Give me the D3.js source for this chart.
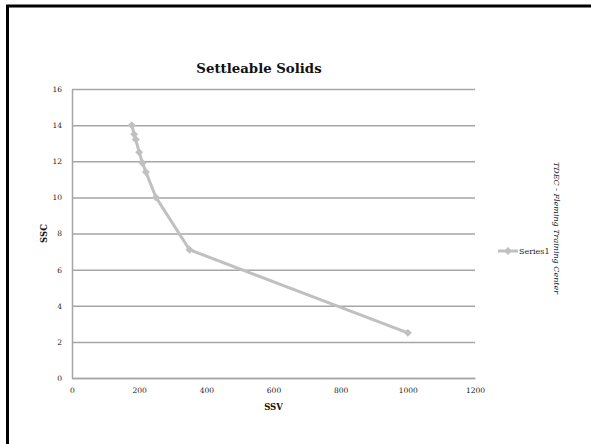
<!DOCTYPE html>
<html lang="en">
<head>
<meta charset="UTF-8">
<title>Settleable Solids</title>
<script src="https://cdn.jsdelivr.net/npm/d3@7"></script>
<style>
  body { margin: 0; background: #fff; }
  text { font-family: "DejaVu Serif", "Liberation Serif", serif; }
</style>
</head>
<body>
<div id="container"></div>
<script>
    const width = 591;
    const height = 444;
    const margin = { top: 89, left: 72, right: 116, bottom: 66 };

    // SSV (x) and SSC (y) values
    const ssv = [178, 185, 190, 200, 210, 220, 250, 350, 1000];
    const ssc = [14, 13.5, 13.2, 12.5, 11.9, 11.4, 10, 7.1, 2.5];
    const xTicks = [0, 200, 400, 600, 800, 1000, 1200];
    const yTicks = [0, 2, 4, 6, 8, 10, 12, 14, 16];
    const seriesName = 'Series1';

    const data = ssv.map((v, i) => ({ x: v, y: ssc[i] }));

    const x = d3.scaleLinear().domain([0, 1200]).range([margin.left, width - margin.right]);
    const y = d3.scaleLinear().domain([0, 16]).range([height - margin.bottom, margin.top]);

    const svg = d3.select('#container').append('svg')
        .attr('width', width)
        .attr('height', height);

    // outer frame
    svg.append('rect')
        .attr('x', 7.5).attr('y', 6)
        .attr('width', 620).attr('height', 480)
        .attr('fill', 'none')
        .attr('stroke', '#000')
        .attr('stroke-width', 3);

    // gridlines
    svg.append('g')
        .attr('transform', `translate(${margin.left}, 0)`)
        .call(d3.axisLeft(y).tickValues(yTicks).tickSize(-(width - margin.left - margin.right)).tickFormat(''))
        .call(g => g.select('.domain').remove())
        .call(g => g.selectAll('line').attr('stroke', '#a6a6a6').attr('stroke-width', 1.5));

    // y axis
    svg.append('g')
        .attr('transform', `translate(${margin.left}, 0)`)
        .call(d3.axisLeft(y).tickValues(yTicks).tickSize(0).tickPadding(10))
        .call(g => g.select('.domain').attr('stroke', '#a6a6a6').attr('stroke-width', 1.5))
        .call(g => g.selectAll('text').attr('font-size', 7.5).attr('fill', '#222')
            .attr('font-family', '"DejaVu Serif", serif'));

    // x axis
    svg.append('g')
        .attr('transform', `translate(0, ${height - margin.bottom})`)
        .call(d3.axisBottom(x).tickValues(xTicks).tickSize(0).tickPadding(10).tickFormat(d3.format('d')))
        .call(g => g.select('.domain').attr('stroke', '#a6a6a6').attr('stroke-width', 1.5))
        .call(g => g.selectAll('text').attr('font-size', 7.5).attr('fill', '#222')
            .attr('font-family', '"DejaVu Serif", serif'));

    // line
    const line = d3.line().x(d => x(d.x)).y(d => y(d.y));
    svg.append('path')
        .datum(data)
        .attr('fill', 'none')
        .attr('stroke', '#c0c0c0')
        .attr('stroke-width', 3)
        .attr('stroke-linejoin', 'round')
        .attr('d', line);

    // diamond markers
    const diamond = d3.symbol().type(d3.symbolDiamond2).size(40);
    svg.append('g').selectAll('path').data(data).join('path')
        .attr('transform', d => `translate(${x(d.x)}, ${y(d.y)})`)
        .attr('d', diamond)
        .attr('fill', '#c0c0c0');

    // title
    svg.append('text')
        .attr('x', 259).attr('y', 73)
        .attr('text-anchor', 'middle')
        .attr('font-size', 13.3)
        .attr('font-weight', 'bold')
        .attr('fill', '#111')
        .text('Settleable Solids');

    // axis titles
    svg.append('text')
        .attr('transform', `translate(47, ${y(8)}) rotate(-90)`)
        .attr('text-anchor', 'middle')
        .attr('font-size', 8.5)
        .attr('font-weight', 'bold')
        .attr('fill', '#111')
        .text('SSC');

    svg.append('text')
        .attr('x', x(600)).attr('y', 410)
        .attr('text-anchor', 'middle')
        .attr('font-size', 8.5)
        .attr('font-weight', 'bold')
        .attr('fill', '#111')
        .text('SSV');

    // legend
    const legend = svg.append('g').attr('transform', 'translate(498, 251)');
    legend.append('line')
        .attr('x1', 0).attr('x2', 20)
        .attr('stroke', '#c0c0c0').attr('stroke-width', 3);
    legend.append('path')
        .attr('transform', 'translate(10, 0)')
        .attr('d', diamond)
        .attr('fill', '#c0c0c0');
    legend.append('text')
        .attr('x', 21).attr('y', 3)
        .attr('font-size', 8)
        .attr('fill', '#222')
        .text(seriesName);

    // side note
    svg.append('text')
        .attr('transform', 'translate(554, 228) rotate(90)')
        .attr('text-anchor', 'middle')
        .attr('font-size', 8)
        .attr('font-style', 'italic')
        .attr('fill', '#111')
        .text('TDEC - Fleming Training Center');
</script>
</body>
</html>
